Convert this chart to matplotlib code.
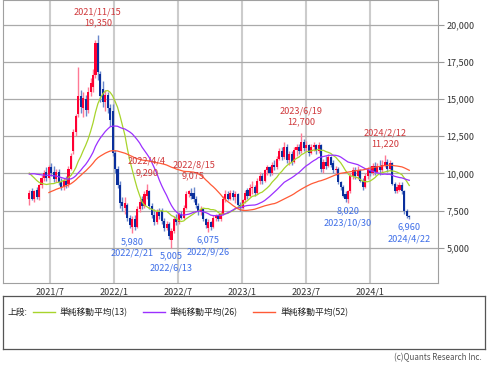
import numpy as np
import pandas as pd
import matplotlib
matplotlib.use("Agg")
import matplotlib.pyplot as plt
from matplotlib.ticker import FuncFormatter

plt.rcParams['font.family'] = ['Noto Sans CJK JP', 'DejaVu Sans']

# weekly candles, first week is 2021/5/3
start_week = "2021-05-03"
opens = [8300, 8800, 8300, 8900, 8400, 9200, 9700, 10100, 9700, 10400,
         10100, 9600, 10100, 9400, 9100, 9500, 9300, 10300, 11500, 12800,
         14000, 15200, 14400, 15000, 14300, 15500, 15800, 16600, 18800, 16700,
         15700, 14800, 15300, 14400, 14200, 11400, 10300, 9200, 8100, 7700,
         7900, 7000, 6400, 6900, 6400, 7600, 8300, 7800, 8500, 8800,
         7800, 7200, 6700, 7400, 7500, 6800, 6300, 6600, 5500, 6100,
         6900, 6700, 7300, 7000, 7700, 8600, 8700, 8700, 8300, 7800,
         7400, 7600, 6900, 6300, 6700, 6400, 7000, 7100, 6900, 7300,
         8300, 8600, 8300, 8700, 8400, 8600, 7900, 7700, 8200, 8900,
         8500, 9000, 9100, 8700, 9500, 9800, 9500, 10200, 10400, 10000,
         10600, 10400, 11000, 11500, 11100, 11800, 10900, 11300, 10800, 11600,
         11800, 11500, 12100, 11700, 11900, 11400, 11800, 11900, 11500, 11900,
         10300, 10800, 10500, 11100, 10700, 10200, 10300, 9400, 9100, 8600,
         8300, 8800, 9800, 10200, 9800, 10200, 9500, 9100, 9800, 10200,
         10000, 10500, 10100, 10500, 10200, 10600, 10800, 10300, 10700, 9300,
         8800, 8900, 9200, 8800, 7500, 7100]
highs = [8900, 9000, 8900, 9100, 9300, 9900, 10200, 10400, 10600, 10700,
         10500, 10300, 10300, 9700, 9700, 9800, 10500, 11400, 13000, 14000,
         17200, 15600, 15500, 15300, 15800, 16400, 17000, 19000, 19350, 16900,
         16200, 15600, 15500, 14700, 14700, 11600, 10500, 9500, 8400, 8400,
         8000, 7200, 7100, 7200, 7800, 8300, 8500, 8800, 9290, 8900,
         8000, 7600, 7600, 7700, 7700, 7000, 6800, 6700, 6300, 7100,
         7300, 7400, 7500, 7900, 8800, 8900, 9000, 9075, 8500, 8000,
         7800, 7700, 7000, 6900, 6800, 7200, 7300, 7300, 7500, 8500,
         8900, 8800, 8900, 8900, 8800, 8700, 8100, 8300, 8900, 9000,
         9300, 9500, 9200, 9700, 10100, 10000, 10300, 10600, 10500, 10800,
         10900, 11200, 11700, 11800, 12100, 12000, 11500, 11500, 11800, 12000,
         12000, 12700, 12300, 12200, 12000, 12000, 12100, 12000, 12100, 12000,
         11000, 11200, 11300, 11200, 10900, 10500, 10400, 9500, 9200, 8800,
         8900, 10000, 10400, 10400, 10500, 10300, 9700, 10000, 10400, 10500,
         10700, 10800, 10700, 10900, 10900, 11220, 11000, 10900, 10800, 9400,
         9300, 9400, 9400, 8900, 7600, 7200]
lows = [7900, 8200, 8100, 8300, 8200, 9000, 9500, 9500, 9600, 9800,
        9400, 9400, 9200, 8900, 8900, 9000, 9100, 10200, 11300, 12500,
        13800, 14100, 13800, 13900, 14100, 15200, 15500, 16400, 16300, 14800,
        14500, 14200, 14100, 13200, 11200, 10000, 9000, 7700, 7500, 7300,
        6800, 6300, 5980, 6200, 6300, 7400, 7600, 7700, 8300, 7600,
        7000, 6500, 6600, 6900, 6600, 6100, 6200, 5600, 5005, 6000,
        6500, 6600, 6900, 6900, 7600, 8400, 8300, 8100, 7700, 7200,
        7200, 6800, 6300, 6075, 6200, 6300, 6800, 6800, 6800, 7200,
        8100, 8200, 8200, 8200, 8000, 7700, 7500, 7600, 8000, 8300,
        8400, 8600, 8500, 8600, 9300, 9300, 9400, 9900, 9800, 9900,
        10200, 10300, 10900, 10900, 11000, 10700, 10600, 10600, 10700, 11200,
        11300, 11400, 11500, 11500, 11200, 11300, 11500, 11300, 11400, 10100,
        10000, 10300, 10400, 10400, 10000, 9900, 9300, 8900, 8400, 8100,
        8020, 8700, 9600, 9600, 9600, 9400, 8900, 9000, 9600, 9800,
        9900, 9900, 10000, 9900, 10100, 10400, 10100, 10200, 9200, 8700,
        8700, 8800, 8600, 7300, 7000, 6960]
closes = [8700, 8300, 8800, 8400, 9200, 9700, 10000, 9700, 10400, 10000,
          9600, 10100, 9400, 9100, 9500, 9200, 10300, 11200, 12800, 13900,
          15200, 14500, 15100, 14300, 15500, 16100, 16600, 18800, 16800, 15200,
          14800, 15300, 14400, 13600, 11400, 10300, 9200, 8000, 7800, 8000,
          7000, 6500, 6900, 6400, 7600, 8100, 7800, 8600, 8900, 7800,
          7200, 6700, 7400, 7100, 6800, 6300, 6600, 5800, 6100, 6900,
          6700, 7300, 7000, 7700, 8600, 8800, 8500, 8300, 7900, 7400,
          7600, 6900, 6500, 6700, 6400, 7000, 7100, 6900, 7300, 8300,
          8600, 8300, 8700, 8400, 8600, 7900, 7700, 8200, 8700, 8500,
          9000, 9100, 8700, 9500, 9800, 9500, 10200, 10400, 10000, 10600,
          10400, 11000, 11500, 11100, 11800, 10900, 11300, 10800, 11600, 11800,
          11500, 12100, 11700, 11900, 11400, 11800, 11900, 11500, 11900, 10300,
          10800, 10500, 11100, 10600, 10200, 10300, 9400, 9100, 8500, 8300,
          8800, 9800, 10200, 9800, 10200, 9500, 9100, 9800, 10200, 10000,
          10500, 10100, 10500, 10200, 10600, 10800, 10300, 10700, 9300, 8800,
          9100, 9200, 8800, 7500, 7100, 7050]

# closes of the 43 weeks before the first candle (only feed the moving averages)
closes_before = [6000, 6200, 6100, 6400, 6300, 6500, 6400, 6600, 6800, 6700,
                 6900, 6800, 7000, 6900, 7100, 7000, 7200, 6800, 7800, 8600,
                 9300, 9800, 10200, 10400, 10100, 10300, 10500, 10200, 10400, 10600,
                 10300, 10500, 10800, 10600, 10900, 10700, 10400, 10200, 10000, 9700,
                 9500, 9300, 9000]

ma_spans = [13, 26, 52]
ma_labels = ["単純移動平均(13)", "単純移動平均(26)", "単純移動平均(52)"]
ma_colors = ["#a8d42c", "#9b30ff", "#ff5a36"]

marks_high = [("2021-11-15", 19350), ("2022-04-04", 9290), ("2022-08-15", 9075),
              ("2023-06-19", 12700), ("2024-02-12", 11220)]
marks_low = [("2022-02-21", 5980), ("2022-06-13", 5005), ("2022-09-26", 6075),
             ("2023-10-30", 8020), ("2024-04-22", 6960)]

x_ticks = ["2021-07-01", "2022-01-01", "2022-07-01", "2023-01-01", "2023-07-01", "2024-01-01"]
y_ticks = [5000, 7500, 10000, 12500, 15000, 17500, 20000]

up_color, down_color = "#ff0033", "#0a2f9c"
up_wick, down_wick = "#ff7a95", "#6a88cc"
high_text, low_text = "#d0393c", "#3f6fe8"

weeks = pd.date_range(start_week, periods=len(closes), freq="7D")
o = np.array(opens, float)
h = np.array(highs, float)
l = np.array(lows, float)
c = np.array(closes, float)

fig = plt.figure(figsize=(4.87, 3.65), dpi=100)
ax = fig.add_axes([3 / 487, 82 / 365, 435 / 487, 283 / 365])

up = c >= o
dn = ~up
ax.vlines(weeks[up], l[up], h[up], color=up_wick, lw=1.0, zorder=2)
ax.vlines(weeks[dn], l[dn], h[dn], color=down_wick, lw=1.0, zorder=2)
body = np.maximum(np.abs(c - o), 50)
ax.bar(weeks[up], body[up], bottom=o[up], width=6, color=up_color, zorder=3)
ax.bar(weeks[dn], body[dn], bottom=c[dn], width=6, color=down_color, zorder=3)

# moving averages
full = pd.Series(closes_before + closes, dtype=float)
n0 = len(closes_before)
for span, col in zip(ma_spans, ma_colors):
    ma = full.rolling(span).mean().iloc[n0:].values
    ax.plot(weeks, ma, color=col, lw=0.9, zorder=4)

def date_label(d):
    t = pd.Timestamp(d)
    return f"{t.year}/{t.month}/{t.day}"

for d, v in marks_high:
    t = pd.Timestamp(d)
    ax.annotate(f"{v:,}", xy=(t, v), xytext=(0, 8.3), textcoords="offset points",
                ha="center", va="center", fontsize=6.6, color=high_text, zorder=5)
    ax.annotate(date_label(d), xy=(t, v), xytext=(0, 16.3), textcoords="offset points",
                ha="center", va="center", fontsize=6.6, color=high_text, zorder=5)
for d, v in marks_low:
    t = pd.Timestamp(d)
    ax.annotate(f"{v:,}", xy=(t, v), xytext=(0, -6), textcoords="offset points",
                ha="center", va="center", fontsize=6.6, color=low_text, zorder=5)
    ax.annotate(date_label(d), xy=(t, v), xytext=(0, -14.5), textcoords="offset points",
                ha="center", va="center", fontsize=6.6, color=low_text, zorder=5)

ax.set_xlim(pd.Timestamp("2021-02-17"), pd.Timestamp("2024-07-13"))
ax.set_ylim(2620, 21680)

xt = [pd.Timestamp(s) for s in x_ticks]
ax.set_xticks(xt)
ax.set_xticklabels([f"{t.year}/{t.month}" for t in xt])
ax.set_yticks(y_ticks)
ax.yaxis.set_major_formatter(FuncFormatter(lambda v, p: f"{int(v):,}"))
ax.yaxis.tick_right()

ax.set_axisbelow(True)
ax.grid(axis="x", color="#cccccc", lw=1.5)
ax.grid(axis="y", color="#aaaaaa", lw=0.9)
ax.tick_params(axis="x", length=0, pad=3, labelsize=6.5, colors="#333333")
ax.tick_params(axis="y", length=4, width=0.8, color="#999999", pad=2,
               labelsize=6.5, labelcolor="#333333")
for s in ax.spines.values():
    s.set_color("#a0a0a0")
    s.set_linewidth(0.8)

# legend box
lg = fig.add_axes([3 / 487, 16 / 365, 482 / 487, 53 / 365])
lg.set_xticks([])
lg.set_yticks([])
lg.set_xlim(0, 1)
lg.set_ylim(0, 1)
for s in lg.spines.values():
    s.set_color("#555555")
    s.set_linewidth(0.9)
ly = 0.69
lg.text(0.010, ly, "上段:", fontsize=6.3, color="#222222", va="center")
line_x = [0.062, 0.290, 0.519]
for lx, lab, col in zip(line_x, ma_labels, ma_colors):
    lg.plot([lx, lx + 0.046], [ly, ly], color=col, lw=1)
    lg.text(lx + 0.056, ly, lab, fontsize=6.3, color="#222222", va="center")

fig.text(482 / 487, 1 - 358 / 365, "(c)Quants Research Inc.", ha="right", va="center",
         fontsize=5.8, color="#555555")

fig.savefig("out.png", dpi=100)
